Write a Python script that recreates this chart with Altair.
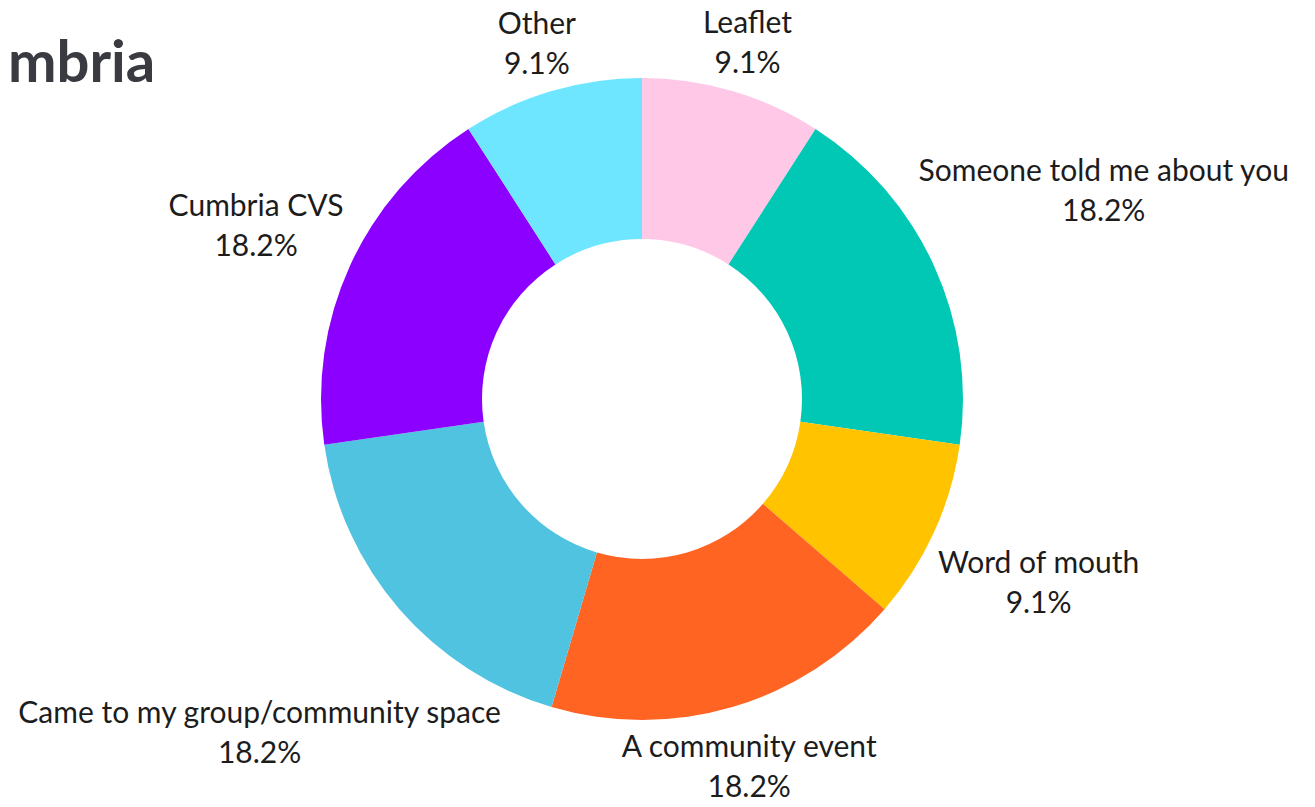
import math
import altair as alt
import pandas as pd

# ---- data ----
title_text = "mbria"
categories = [
    "Leaflet",
    "Someone told me about you",
    "Word of mouth",
    "A community event",
    "Came to my group/community space",
    "Cumbria CVS",
    "Other",
]
shares = [9.1, 18.2, 9.1, 18.2, 18.2, 18.2, 9.1]
colors = ["#FFC8E6", "#00C8B4", "#FFC300", "#FF6423", "#50C3E1", "#8C00FF", "#6EE6FF"]

# ---- styling / layout ----
W, H = 1268, 782
R_OUT, R_IN = 321, 160
FONT = "Lato"
FS = 30
LH = 40
GAP = 13
HALF_H = 31

CHAR_W = {
    "a": .51, "b": .56, "c": .46, "d": .56, "e": .52, "f": .32, "g": .50, "h": .56,
    "i": .24, "l": .24, "m": .84, "n": .56, "o": .56, "p": .56, "r": .36, "s": .42,
    "t": .34, "u": .56, "v": .49, "w": .76, "y": .49, "C": .63, "V": .66, "S": .50,
    "L": .48, "O": .72, "A": .67, "W": .95, " ": .19, "/": .37, ".": .2, "%": .74,
}


def text_w(s):
    return sum(CHAR_W.get(ch, .58 if ch.isdigit() else .52) for ch in s) * FS


total = sum(shares)
cum = 0.0
label_r = []
labels = []
for cat, s in zip(categories, shares):
    pct = f"{s:.1f}%"
    labels.append(f"{cat}\n{pct}")
    mid = (cum + s / 2) / total * 2 * math.pi
    cum += s
    hw = max(text_w(cat), text_w(pct)) / 2
    ux, uy = math.sin(mid), -math.cos(mid)
    lo, hi = 0.0, 2000.0
    for _ in range(60):
        r = (lo + hi) / 2
        cx, cy = r * ux, r * uy
        d = math.hypot(max(0.0, abs(cx) - hw), max(0.0, abs(cy) - HALF_H))
        if d < R_OUT + GAP:
            lo = r
        else:
            hi = r
    label_r.append(hi)

df = pd.DataFrame({
    "idx": list(range(len(categories))),
    "category": categories,
    "share": shares,
    "label": labels,
    "lr": label_r,
})

theta_scale = alt.Scale(domain=[0, total], range=[0, 2 * math.pi])

arcs = alt.Chart(df).mark_arc(outerRadius=R_OUT, innerRadius=R_IN).encode(
    theta=alt.Theta("share:Q", stack=True, scale=theta_scale),
    order=alt.Order("idx:Q"),
    color=alt.Color("category:N", scale=alt.Scale(domain=categories, range=colors), legend=None),
)

texts = alt.Chart(df).transform_window(
    cum="sum(share)", sort=[alt.SortField("idx")], frame=[None, 0]
).transform_calculate(
    mid="datum.cum - datum.share / 2"
).mark_text(
    font=FONT, fontSize=FS, lineBreak="\n", lineHeight=LH, dy=-16,
    align="center", baseline="middle", color="#1c1c1c",
).encode(
    theta=alt.Theta("mid:Q", stack=None, scale=theta_scale),
    text="label:N",
    radius=alt.Radius("lr:Q", scale=None),
)

title = alt.Chart(pd.DataFrame({"t": [title_text]})).mark_text(
    font=FONT, fontSize=58, fontWeight="bold", color="#3A3B40",
    align="left", baseline="alphabetic",
).encode(text="t:N", x=alt.value(0), y=alt.value(74))

chart = alt.layer(arcs, texts, title).properties(
    width=W,
    height=H,
    autosize=alt.AutoSizeParams(type="none"),
    padding={"left": 0, "top": 0, "right": 26, "bottom": 9},
).configure_view(stroke=None)

chart.save("out.html", embed_options={"renderer": "svg", "actions": False})
